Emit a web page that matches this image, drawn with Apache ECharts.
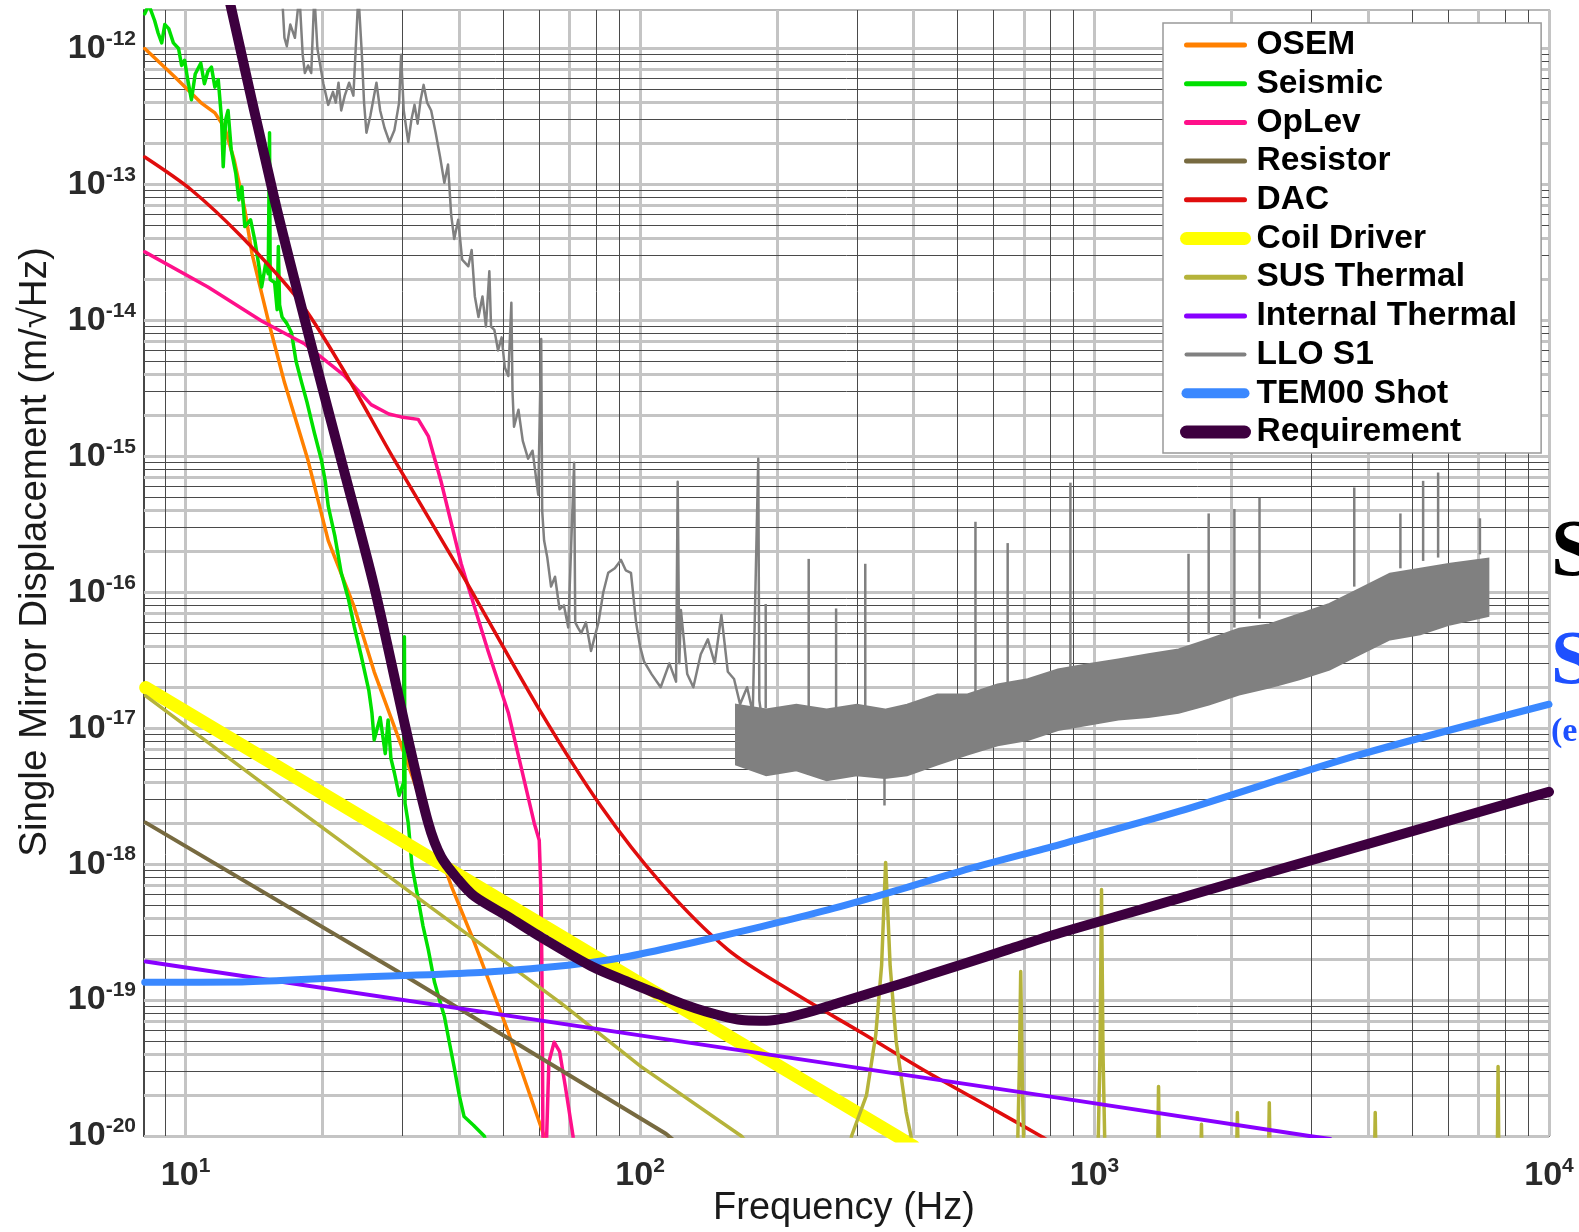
<!DOCTYPE html>
<html>
<head>
<meta charset="utf-8">
<script src="https://cdn.jsdelivr.net/npm/echarts@6/dist/echarts.min.js"></script>
<style>
html,body{margin:0;padding:0;background:#fff;}
#main{width:1579px;height:1232px;}
</style>
</head>
<body>
<div id="main"></div>
<script>
// noise curves, [frequency Hz, displacement m/rtHz]
var osem = [[8.13,1.0e-12],[9.46,6.2e-13],[10.8,4.0e-13],[11.6,3.36e-13],[12.2,2.6e-13],[12.8,1.5e-13],[13.5,6.5e-14],[14.0,3.1e-14],[15.2,1.0e-14],[16.5,3.5e-15],[18.6,9.3e-16],[20.6,2.4e-16],[23.5,7.8e-17],[26.0,2.6e-17],[29.9,7.3e-18],[38.5,6.8e-19],[43.2,2.65e-19],[51.3,5.8e-20],[61.5,1.0e-20],[66,5e-21]];
var seismic = [[8.13,1.8e-12],[8.3,2.1e-12],[8.55,1.6e-12],[8.7,1.3e-12],[8.86,1.1e-12],[9.0,1.5e-12],[9.18,1.4e-12],[9.4,1.1e-12],[9.65,1.0e-12],[9.8,7.5e-13],[9.95,8.2e-13],[10.1,6.0e-13],[10.3,4.2e-13],[10.5,6.5e-13],[10.8,7.8e-13],[11.0,5.5e-13],[11.2,6.8e-13],[11.4,7.3e-13],[11.6,5.2e-13],[11.8,5.9e-13],[12.0,3.0e-13],[12.1,1.35e-13],[12.25,3.0e-13],[12.4,3.5e-13],[12.6,1.8e-13],[12.9,1.2e-13],[13.1,7.7e-14],[13.3,9.6e-14],[13.5,4.9e-14],[13.9,5.5e-14],[14.2,3.9e-14],[14.5,2.5e-14],[14.7,1.76e-14],[15.0,2.6e-14],[15.2,2.2e-14],[15.3,2.4e-13],[15.35,2.0e-14],[15.7,1.9e-14],[15.9,1.2e-14],[16.0,3.5e-14],[16.1,1.3e-14],[16.3,1.06e-14],[16.7,9.5e-15],[17.1,8.1e-15],[17.5,5.0e-15],[18.0,3.5e-15],[18.5,2.5e-15],[19.2,1.49e-15],[19.9,9.4e-16],[20.3,6.5e-16],[20.6,4.3e-16],[21.3,2.6e-16],[22.0,1.39e-16],[22.8,9.0e-17],[23.5,5.6e-17],[24.3,3.5e-17],[25.3,1.9e-17],[25.7,1.3e-17],[26.0,8.2e-18],[26.8,1.2e-17],[27.5,6.5e-18],[27.9,1.15e-17],[28.3,6.0e-18],[28.8,4.7e-18],[29.5,3.2e-18],[30.2,4.0e-18],[30.3,4.7e-17],[30.4,2.8e-18],[30.9,2.0e-18],[31.5,9.6e-19],[32.5,5.5e-19],[33.3,3.5e-19],[34.2,2.35e-19],[35.3,1.35e-19],[36.2,1.0e-19],[37.1,7.6e-20],[38.0,5.0e-20],[39.0,3.2e-20],[40.0,2.0e-20],[41.0,1.39e-20],[43.0,1.2e-20],[45.4,1.0e-20],[47,7e-21]];
var oplev = [[8.13,3.19e-14],[11.2,1.76e-14],[14.7,9.9e-15],[18.3,6.7e-15],[22.4,3.9e-15],[25.6,2.4e-15],[28.0,2.05e-15],[29.8,1.95e-15],[32.5,1.87e-15],[34.2,1.41e-15],[36.5,6.5e-16],[40.4,1.62e-16],[46.3,3.7e-17],[51.3,1.3e-17],[58.5,2.0e-18],[60.0,1.5e-18],[60.6,5.5e-19],[60.9,1.0e-19],[61.2,5e-21],[62.0,5e-21],[62.3,1.0e-20],[63.0,3.5e-20],[64.7,4.9e-20],[66.5,4.2e-20],[68.5,2.3e-20],[71.2,1.0e-20],[72,6e-21]];
var resistor = [[8.17,2.02e-18],[30,1.55e-19],[114,1.04e-20],[125,8e-21]];
var dac = [[8.13,1.59e-13],[10.3,9.1e-14],[13.3,4.1e-14],[17.7,1.42e-14],[22.0,4.6e-15],[28.8,9.4e-16],[40.4,1.39e-16],[60.6,1.3e-17],[82.1,2.65e-18],[111,7.3e-19],[156,2.35e-19],[218,1.13e-19],[306,5.8e-20],[430,2.93e-20],[600,1.57e-20],[761,1.0e-20],[850,8e-21]];
var coilDriver = [[8.17,1.99e-17],[100,1.33e-19],[367,1.0e-20],[400,8.4e-21]];
var susThermal = [[8.17,1.73e-17],[16.5,2.98e-18],[67,9.5e-20],[100.5,3.24e-20],[167,1.0e-20],[190,6e-21],[280,5e-21],[292,1.0e-20],[315,2.0e-20],[330,5.5e-20],[340,1.8e-19],[347,1.03e-18],[355,1.8e-19],[366,5e-20],[385,1.5e-20],[400,8e-21],
  [675,5e-21],[683,3e-20],[688,1.62e-19],[693,3e-20],[701,5e-21],
  [1015,5e-21],[1028,4e-20],[1036,6.5e-19],[1044,4e-20],[1057,5e-21],
  [1375,5e-21],[1383,2.31e-20],[1391,5e-21],
  [1710,5e-21],[1719,1.22e-20],[1728,5e-21],
  [2050,5e-21],[2062,1.49e-20],[2074,5e-21],
  [2410,5e-21],[2424,1.76e-20],[2438,5e-21],
  [4125,5e-21],[4146,1.49e-20],[4167,5e-21],
  [7690,5e-21],[7726,3.24e-20],[7762,5e-21]];
var internalThermal = [[8.17,1.92e-19],[100,5.5e-20],[842,1.9e-20],[2968,1.0e-20],[3300,9.5e-21]];
var lloS1 = [[16.3,2.5e-12],[16.5,1.2e-12],[16.7,1.04e-12],[17.0,1.5e-12],[17.4,1.2e-12],[17.8,2.5e-12],[18.1,9e-13],[18.3,6.6e-13],[18.6,7.5e-13],[18.9,6.6e-13],[19.2,2.5e-12],[19.5,1.0e-12],[19.7,8.2e-13],[20.1,5.5e-13],[20.6,3.85e-13],[21.1,4.8e-13],[21.4,4e-13],[21.7,5.6e-13],[22.0,3.5e-13],[22.4,4.5e-13],[22.9,5.6e-13],[23.4,4.5e-13],[24.0,2.5e-12],[24.4,9.7e-13],[24.7,4e-13],[25.0,2.4e-13],[25.5,3.2e-13],[26.3,5.6e-13],[26.8,3.5e-13],[27.4,2.6e-13],[28.1,2.05e-13],[28.8,2.5e-13],[29.5,4e-13],[29.8,9.0e-13],[30.2,3.5e-13],[30.9,2.05e-13],[31.4,3e-13],[31.9,3.85e-13],[32.4,2.8e-13],[32.9,4.2e-13],[33.4,5.4e-13],[34.0,4e-13],[34.7,3.5e-13],[35.5,2.4e-13],[36.3,1.6e-13],
  [37.1,1.03e-13],[37.8,1.4e-13],[38.4,6e-14],[39.0,3.97e-14],[39.8,5.5e-14],[40.6,2.8e-14],[41.9,2.5e-14],[42.6,3.3e-14],[43.3,1.5e-14],[44.1,1.06e-14],[45.0,1.5e-14],[45.8,9e-15],[46.6,2.3e-14],[47.0,9e-15],[47.8,8.5e-15],[48.7,6e-15],[49.6,7.5e-15],[50.4,4.5e-15],[51.3,3.9e-15],[52.1,1.35e-14],[52.4,3e-15],[52.8,1.65e-15],[54,2.2e-15],[55.2,1.3e-15],[56.7,9.6e-16],[58,1.1e-15],[59.7,5.2e-16],[60.6,7.3e-15],[60.9,4e-16],[61.5,2.4e-16],[62.5,1.8e-16],[63.7,1.1e-16],[65,1.3e-16],[66.5,7.5e-17],[68,8e-17],[69.5,5.5e-17],[71.6,8.95e-16],[72,6e-17],[73,5.5e-17],[74.2,5.0e-17],[76,6e-17],[78.0,3.7e-17],[81,6e-17],[83,1.0e-16],[85.1,1.39e-16],[88,1.5e-16],[90.8,1.73e-16],[93,1.45e-16],[95.5,1.39e-16],[98,6e-17],[100,4e-17],[102,3.1e-17],[106,2.5e-17],[111,2.0e-17],[116,3.0e-17],[120,2.2e-17],[121,6.5e-16],[122,3e-17],[123,7.4e-17],[127,2.5e-17],[131,2.0e-17],[136,3.5e-17],[141,4.5e-17],[146,3e-17],[151,6.8e-17],[156,2.6e-17],[161,2.3e-17],[166,1.5e-17],[172,2.0e-17],[177,1.3e-17],[182,9.6e-16],[183,1.6e-17],[185,1.23e-17]];
// dense noise band of LLO S1 above ~160 Hz: upper and lower edge
var lloBandFreq = [162.6,189.5,220.8,257.3,299.9,345.7,386.8,450.7,525.2,611.8,712.9,830.8,967.9,1128,1314,1531,1784,2079,2422,2822,3288,3832,4466,5205,6063,7355];
var lloBandUpper = [1.49e-17,1.37e-17,1.49e-17,1.37e-17,1.49e-17,1.37e-17,1.49e-17,1.77e-17,1.77e-17,2.1e-17,2.29e-17,2.7e-17,2.95e-17,3.2e-17,3.5e-17,3.8e-17,4.5e-17,5.4e-17,5.8e-17,6.9e-17,8.2e-17,1.06e-16,1.37e-16,1.49e-16,1.62e-16,1.77e-16];
var lloBandLower = [5.4e-18,4.5e-18,4.9e-18,4.15e-18,4.5e-18,4.3e-18,4.5e-18,5.4e-18,6.4e-18,7.5e-18,8.2e-18,9.7e-18,1.06e-17,1.16e-17,1.21e-17,1.3e-17,1.49e-17,1.77e-17,1.99e-17,2.29e-17,2.7e-17,3.5e-17,4.5e-17,4.9e-17,5.8e-17,6.7e-17];
// line spikes: [freq, foot, tip]
var lloSpikes = [[189,1.4e-17,8.2e-17],[235,1.4e-17,1.76e-16],[270,1.4e-17,7.6e-17],[313,1.45e-17,1.62e-16],[345,4.5e-18,2.7e-18],[547,1.8e-17,3.3e-16],[644,2.0e-17,2.3e-16],[885,2.7e-17,6.4e-16],[1610,4.3e-17,1.92e-16],[1783,4.9e-17,3.8e-16],[2031,5.5e-17,4.1e-16],[2307,6.4e-17,4.95e-16],[3728,1.1e-16,5.9e-16],[4710,1.5e-16,3.8e-16],[5285,1.7e-16,6.6e-16],[5702,1.8e-16,7.6e-16],[7047,1.9e-16,3.5e-16]];
var tem00 = [[8.13,1.35e-19],[13.3,1.36e-19],[22.0,1.46e-19],[43.2,1.59e-19],[60.6,1.73e-19],[78.0,1.89e-19],[94.1,2.09e-19],[131,2.65e-19],[185,3.47e-19],[259,4.6e-19],[361,6.3e-19],[508,8.9e-19],[842,1.4e-18],[1538,2.45e-18],[3784,6.3e-18],[10000,1.5e-17]];
var requirement = [[12.2,3.2e-12],[15.7,7.7e-14],[18.6,8.1e-15],[22.0,9.4e-16],[26.0,1.1e-16],[30.9,8.2e-18],[34.2,2.0e-18],[36.5,1.13e-18],[39.8,7.7e-19],[43.2,5.8e-19],[51.3,4.1e-19],[60.6,2.9e-19],[78,1.78e-19],[94,1.36e-19],[110,1.1e-19],[125,9.3e-20],[140,8.2e-20],[155,7.5e-20],[170,7.1e-20],[190,7.05e-20],[210,7.4e-20],[240,8.3e-20],[270,9.4e-20],[387,1.36e-19],[508,1.82e-19],[644,2.35e-19],[842,3.13e-19],[10000,3.4e-18]];

var names = ['OSEM','Seismic','OpLev','Resistor','DAC','Coil Driver','SUS Thermal','Internal Thermal','LLO S1','TEM00 Shot','Requirement'];
var colors = ['#ff8000','#00e000','#ff108a','#776a40','#e00d0d','#ffff00','#b5b33a','#8800ff','#808080','#3a88ff','#3d003f'];
var widths = [3.5,3.5,3.5,4,3.5,13,3.5,4,2.5,7,10];
var legendWidths = [5,5,5,5,5,13,5,5,4,10,13];
var curves = [osem,seismic,oplev,resistor,dac,coilDriver,susThermal,internalThermal,lloS1,tem00,requirement];

// log grid lines: some drawn light grey and thick, the rest dark and thin
var xMin = 8.1, xMax = 10000, yMin = 1e-20, yMax = 1.92e-12;
var greyK = [1,2,4,7];
var xGrey = [], xDark = [], yGrey = [], yDark = [];
for (var e = 0; e <= 4; e++) {
  for (var k = 1; k <= 9; k++) {
    var v = k * Math.pow(10, e);
    if (v < xMin || v > xMax) continue;
    (greyK.indexOf(k) >= 0 ? xGrey : xDark).push(v);
  }
}
for (var e = -20; e <= -12; e++) {
  for (var k = 1; k <= 9; k++) {
    var v = k * Math.pow(10, e);
    if (v < yMin * 0.999 || v > yMax) continue;
    (greyK.indexOf(k) >= 0 ? yGrey : yDark).push(v);
  }
}
function gridLines(name, xs, ys, color, width) {
  var segs = [];
  xs.forEach(function (v) { segs.push([{coord: [v, yMin]}, {coord: [v, yMax]}]); });
  ys.forEach(function (v) { segs.push([{coord: [xMin, v]}, {coord: [xMax, v]}]); });
  return {
    type: 'line', name: name, data: [], silent: true, z: 1,
    markLine: {
      z: 1, silent: true, animation: false, symbol: ['none','none'],
      label: {show: false},
      lineStyle: {color: color, width: width, type: 'solid'},
      emphasis: {disabled: true},
      data: segs
    }
  };
}

var labelFont = '"Liberation Sans", Arial, Helvetica, sans-serif';
function powLabel(v) {
  var l = Math.log10(v), e = Math.round(l);
  if (Math.abs(l - e) > 1e-6) return '';
  return '{b|10}{s|' + e + '}';
}
var powRich = {
  b: {fontSize: 34, fontWeight: 'bold', color: '#2a2a2a', fontFamily: labelFont, lineHeight: 40},
  s: {fontSize: 21, fontWeight: 'bold', color: '#2a2a2a', fontFamily: labelFont, lineHeight: 24, verticalAlign: 'top'}
};

var series = [gridLines('gridGrey', xGrey, yGrey, '#c4c4c4', 3), gridLines('gridDark', xDark, yDark, '#4a4a4a', 1)];
for (var i = 0; i < names.length; i++) {
  series.push({
    type: 'line', name: names[i], data: curves[i], showSymbol: false, symbol: 'none',
    z: 3, clip: true, smooth: (names[i] === 'DAC' || names[i] === 'TEM00 Shot' || names[i] === 'Requirement') ? 0.3 : false,
    lineStyle: {color: colors[i], width: widths[i], cap: 'round', join: 'round'},
    itemStyle: {color: colors[i]},
    emphasis: {disabled: true}
  });
  if (names[i] === 'LLO S1') {
    series.push({
      type: 'custom', name: 'LLO S1 band', silent: true, z: 3, clip: true,
      data: [[lloBandFreq[0], lloBandLower[0]]],
      renderItem: function (params, api) {
        var pts = [], j;
        for (j = 0; j < lloBandFreq.length; j++) pts.push(api.coord([lloBandFreq[j], lloBandUpper[j]]));
        for (j = lloBandFreq.length - 1; j >= 0; j--) pts.push(api.coord([lloBandFreq[j], lloBandLower[j]]));
        var kids = [{type: 'polygon', shape: {points: pts}, style: {fill: '#808080', stroke: '#808080', lineWidth: 2}}];
        for (j = 0; j < lloSpikes.length; j++) {
          var a = api.coord([lloSpikes[j][0], lloSpikes[j][1]]);
          var b = api.coord([lloSpikes[j][0], lloSpikes[j][2]]);
          kids.push({type: 'line', shape: {x1: a[0], y1: a[1], x2: b[0], y2: b[1]}, style: {stroke: '#808080', lineWidth: 2.5}});
        }
        return {type: 'group', children: kids};
      }
    });
  }
}

var option = {
  animation: false,
  backgroundColor: '#fff',
  grid: {left: 144, right: 30, top: 10, bottom: 96, show: true, borderColor: '#b8b8b8', borderWidth: 2},
  xAxis: {
    type: 'log', logBase: 10, min: xMin, max: xMax,
    axisLine: {show: true, lineStyle: {color: '#222', width: 1.5}},
    axisTick: {show: false}, splitLine: {show: false},
    axisLabel: {formatter: powLabel, rich: powRich, margin: 20, hideOverlap: false}
  },
  yAxis: {
    type: 'log', logBase: 10, min: yMin, max: yMax, splitNumber: 9,
    axisLine: {show: true, lineStyle: {color: '#222', width: 1.5}},
    axisTick: {show: false}, splitLine: {show: false},
    axisLabel: {formatter: powLabel, rich: powRich, margin: 8, hideOverlap: false}
  },
  legend: {
    z: 20,
    orient: 'vertical', left: 1163, top: 23,
    itemWidth: 58, itemHeight: 14, itemGap: 4.7,
    padding: [5, 24, 4, 17],
    borderColor: '#999', borderWidth: 1.5, backgroundColor: '#fff',
    selectedMode: false,
    itemStyle: {opacity: 0, color: 'rgba(0,0,0,0)', borderWidth: 0},
    textStyle: {fontSize: 33.5, fontWeight: 'bold', color: '#000', fontFamily: labelFont, padding: [0, 0, 0, 7]},
    data: names.map(function (n, i) {
      return {name: n, itemStyle: {opacity: 0, color: 'rgba(0,0,0,0)', borderWidth: 0}, lineStyle: {color: colors[i], width: legendWidths[i], cap: 'round', opacity: 1}};
    })
  },
  graphic: [
    {type: 'text', x: 35, y: 552, rotation: Math.PI / 2, z: 10,
      style: {text: 'Single Mirror Displacement (m/\u221aHz)', font: '38.5px ' + labelFont, fill: '#1a1a1a', align: 'center', verticalAlign: 'middle', textAlign: 'center', textVerticalAlign: 'middle'}},
    {type: 'text', x: 844, y: 1209, z: 10,
      style: {text: 'Frequency (Hz)', font: '38px ' + labelFont, fill: '#1a1a1a', align: 'center', verticalAlign: 'middle', textAlign: 'center', textVerticalAlign: 'middle'}},
    {type: 'text', x: 1551, y: 554, z: 10,
      style: {text: 'S', font: 'bold 80px "Liberation Serif", "Times New Roman", serif', fill: '#000', align: 'left', verticalAlign: 'middle', textAlign: 'left', textVerticalAlign: 'middle'}},
    {type: 'text', x: 1551, y: 663, z: 10,
      style: {text: 'S', font: 'bold 76px "Liberation Serif", "Times New Roman", serif', fill: '#1e50ff', align: 'left', verticalAlign: 'middle', textAlign: 'left', textVerticalAlign: 'middle'}},
    {type: 'text', x: 1551, y: 732, z: 10,
      style: {text: '(e', font: 'bold 34px "Liberation Serif", "Times New Roman", serif', fill: '#1e50ff', align: 'left', verticalAlign: 'middle', textAlign: 'left', textVerticalAlign: 'middle'}}
  ],
  series: series
};

var myChart = echarts.init(document.getElementById('main'), null, {renderer: 'canvas'});
myChart.setOption(option);
</script>
</body>
</html>
